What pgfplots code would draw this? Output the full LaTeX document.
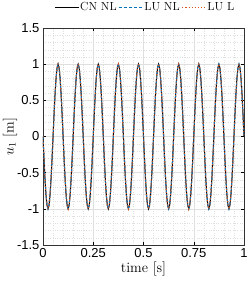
\documentclass[border=0pt]{standalone}
\usepackage{fontspec}
\newfontfamily\tickfont{Liberation Sans}
\usepackage{pgfplots}
\pgfplotsset{compat=1.18}
\usepackage{pgfplotstable}
\definecolor{mblue}{rgb}{0,0.447,0.741}
\definecolor{morange}{rgb}{0.85,0.325,0.098}
\pgfplotstableread{
t cn lunl lul
0.000 0 0 0
0.005 -0.309 -0.309 -0.309
0.010 -0.5878 -0.5878 -0.5878
0.015 -0.809 -0.809 -0.809
0.020 -0.9511 -0.9511 -0.9511
0.025 -1 -1 -1
0.030 -0.9511 -0.9511 -0.9511
0.035 -0.809 -0.809 -0.809
0.040 -0.5878 -0.5878 -0.5878
0.045 -0.309 -0.309 -0.309
0.050 0 0 0
0.055 0.309 0.309 0.309
0.060 0.5878 0.5878 0.5878
0.065 0.809 0.809 0.809
0.070 0.9511 0.9511 0.9511
0.075 1 1 1
0.080 0.9511 0.9511 0.9511
0.085 0.809 0.809 0.809
0.090 0.5878 0.5878 0.5878
0.095 0.309 0.309 0.309
0.100 0 0 0
0.105 -0.309 -0.309 -0.309
0.110 -0.5878 -0.5878 -0.5878
0.115 -0.809 -0.809 -0.809
0.120 -0.9511 -0.9511 -0.9511
0.125 -1 -1 -1
0.130 -0.9511 -0.9511 -0.9511
0.135 -0.809 -0.809 -0.809
0.140 -0.5878 -0.5878 -0.5878
0.145 -0.309 -0.309 -0.309
0.150 0 0 0
0.155 0.309 0.309 0.309
0.160 0.5878 0.5878 0.5878
0.165 0.809 0.809 0.809
0.170 0.9511 0.9511 0.9511
0.175 1 1 1
0.180 0.9511 0.9511 0.9511
0.185 0.809 0.809 0.809
0.190 0.5878 0.5878 0.5878
0.195 0.309 0.309 0.309
0.200 0 0 0
0.205 -0.309 -0.309 -0.309
0.210 -0.5878 -0.5878 -0.5878
0.215 -0.809 -0.809 -0.809
0.220 -0.9511 -0.9511 -0.9511
0.225 -1 -1 -1
0.230 -0.9511 -0.9511 -0.9511
0.235 -0.809 -0.809 -0.809
0.240 -0.5878 -0.5878 -0.5878
0.245 -0.309 -0.309 -0.309
0.250 0 0 0
0.255 0.309 0.309 0.309
0.260 0.5878 0.5878 0.5878
0.265 0.809 0.809 0.809
0.270 0.9511 0.9511 0.9511
0.275 1 1 1
0.280 0.9511 0.9511 0.9511
0.285 0.809 0.809 0.809
0.290 0.5878 0.5878 0.5878
0.295 0.309 0.309 0.309
0.300 0 0 0
0.305 -0.309 -0.309 -0.309
0.310 -0.5878 -0.5878 -0.5878
0.315 -0.809 -0.809 -0.809
0.320 -0.9511 -0.9511 -0.9511
0.325 -1 -1 -1
0.330 -0.9511 -0.9511 -0.9511
0.335 -0.809 -0.809 -0.809
0.340 -0.5878 -0.5878 -0.5878
0.345 -0.309 -0.309 -0.309
0.350 0 0 0
0.355 0.309 0.309 0.309
0.360 0.5878 0.5878 0.5878
0.365 0.809 0.809 0.809
0.370 0.9511 0.9511 0.9511
0.375 1 1 1
0.380 0.9511 0.9511 0.9511
0.385 0.809 0.809 0.809
0.390 0.5878 0.5878 0.5878
0.395 0.309 0.309 0.309
0.400 0 0 0
0.405 -0.309 -0.309 -0.309
0.410 -0.5878 -0.5878 -0.5878
0.415 -0.809 -0.809 -0.809
0.420 -0.9511 -0.9511 -0.9511
0.425 -1 -1 -1
0.430 -0.9511 -0.9511 -0.9511
0.435 -0.809 -0.809 -0.809
0.440 -0.5878 -0.5878 -0.5878
0.445 -0.309 -0.309 -0.309
0.450 0 0 0
0.455 0.309 0.309 0.309
0.460 0.5878 0.5878 0.5878
0.465 0.809 0.809 0.809
0.470 0.9511 0.9511 0.9511
0.475 1 1 1
0.480 0.9511 0.9511 0.9511
0.485 0.809 0.809 0.809
0.490 0.5878 0.5878 0.5878
0.495 0.309 0.309 0.309
0.500 0 0 0
0.505 -0.309 -0.309 -0.309
0.510 -0.5878 -0.5878 -0.5878
0.515 -0.809 -0.809 -0.809
0.520 -0.9511 -0.9511 -0.9511
0.525 -1 -1 -1
0.530 -0.9511 -0.9511 -0.9511
0.535 -0.809 -0.809 -0.809
0.540 -0.5878 -0.5878 -0.5878
0.545 -0.309 -0.309 -0.309
0.550 0 0 0
0.555 0.309 0.309 0.309
0.560 0.5878 0.5878 0.5878
0.565 0.809 0.809 0.809
0.570 0.9511 0.9511 0.9511
0.575 1 1 1
0.580 0.9511 0.9511 0.9511
0.585 0.809 0.809 0.809
0.590 0.5878 0.5878 0.5878
0.595 0.309 0.309 0.309
0.600 0 0 0
0.605 -0.309 -0.309 -0.309
0.610 -0.5878 -0.5878 -0.5878
0.615 -0.809 -0.809 -0.809
0.620 -0.9511 -0.9511 -0.9511
0.625 -1 -1 -1
0.630 -0.9511 -0.9511 -0.9511
0.635 -0.809 -0.809 -0.809
0.640 -0.5878 -0.5878 -0.5878
0.645 -0.309 -0.309 -0.309
0.650 0 0 0
0.655 0.309 0.309 0.309
0.660 0.5878 0.5878 0.5878
0.665 0.809 0.809 0.809
0.670 0.9511 0.9511 0.9511
0.675 1 1 1
0.680 0.9511 0.9511 0.9511
0.685 0.809 0.809 0.809
0.690 0.5878 0.5878 0.5878
0.695 0.309 0.309 0.309
0.700 0 0 0
0.705 -0.309 -0.309 -0.309
0.710 -0.5878 -0.5878 -0.5878
0.715 -0.809 -0.809 -0.809
0.720 -0.9511 -0.9511 -0.9511
0.725 -1 -1 -1
0.730 -0.9511 -0.9511 -0.9511
0.735 -0.809 -0.809 -0.809
0.740 -0.5878 -0.5878 -0.5878
0.745 -0.309 -0.309 -0.309
0.750 0 0 0
0.755 0.309 0.309 0.309
0.760 0.5878 0.5878 0.5878
0.765 0.809 0.809 0.809
0.770 0.9511 0.9511 0.9511
0.775 1 1 1
0.780 0.9511 0.9511 0.9511
0.785 0.809 0.809 0.809
0.790 0.5878 0.5878 0.5878
0.795 0.309 0.309 0.309
0.800 0 0 0
0.805 -0.309 -0.309 -0.309
0.810 -0.5878 -0.5878 -0.5878
0.815 -0.809 -0.809 -0.809
0.820 -0.9511 -0.9511 -0.9511
0.825 -1 -1 -1
0.830 -0.9511 -0.9511 -0.9511
0.835 -0.809 -0.809 -0.809
0.840 -0.5878 -0.5878 -0.5878
0.845 -0.309 -0.309 -0.309
0.850 0 0 0
0.855 0.309 0.309 0.309
0.860 0.5878 0.5878 0.5878
0.865 0.809 0.809 0.809
0.870 0.9511 0.9511 0.9511
0.875 1 1 1
0.880 0.9511 0.9511 0.9511
0.885 0.809 0.809 0.809
0.890 0.5878 0.5878 0.5878
0.895 0.309 0.309 0.309
0.900 0 0 0
0.905 -0.309 -0.309 -0.309
0.910 -0.5878 -0.5878 -0.5878
0.915 -0.809 -0.809 -0.809
0.920 -0.9511 -0.9511 -0.9511
0.925 -1 -1 -1
0.930 -0.9511 -0.9511 -0.9511
0.935 -0.809 -0.809 -0.809
0.940 -0.5878 -0.5878 -0.5878
0.945 -0.309 -0.309 -0.309
0.950 0 0 0
0.955 0.309 0.309 0.309
0.960 0.5878 0.5878 0.5878
0.965 0.809 0.809 0.809
0.970 0.9511 0.9511 0.9511
0.975 1 1 1
0.980 0.9511 0.9511 0.9511
0.985 0.809 0.809 0.809
0.990 0.5878 0.5878 0.5878
0.995 0.309 0.309 0.309
1.000 0 0 0
}\datatable
\begin{document}
\begin{tikzpicture}
\begin{axis}[
  scale only axis,
  width=201pt, height=217pt,
  xmin=0, xmax=1, ymin=-1.5, ymax=1.5,
  xtick={0,0.25,0.5,0.75,1},
  xticklabels={0,0.25,0.5,0.75,1},
  ytick={-1.5,-1,-0.5,0,0.5,1,1.5},
  yticklabels={-1.5,-1,-0.5,0,0.5,1,1.5},
  minor x tick num=4, minor y tick num=4,
  grid=both,
  major grid style={gray!25, line width=0.4pt},
  minor grid style={gray!25, dotted, line width=0.4pt},
  tick align=inside, major tick length=3pt, minor tick length=0pt,
  tick style={black, line width=0.4pt},
  axis line style={black!80, line width=0.5pt},
  tick label style={font=\tickfont\fontsize{13}{15}\selectfont},
  xlabel={time [s]}, ylabel={$u_1$ [m]},
  label style={font=\fontsize{14.3}{16}\selectfont},
  xlabel style={at={(axis description cs:0.5,-0.1106)}, anchor=center},
  ylabel style={at={(axis description cs:-0.1642,0.5)}, anchor=center},
  legend columns=3,
  legend style={at={(1,1)}, anchor=south east, xshift=-9pt, yshift=15pt, draw=none, fill=none,
    font=\fontsize{11.7}{13}\selectfont, inner sep=0pt,
    nodes={inner sep=0.6pt},
    /tikz/every odd column/.append style={column sep=0pt},
    /tikz/every even column/.append style={column sep=1.5pt}},
  legend image code/.code={\draw[mark repeat=2,mark phase=2] plot coordinates {(0pt,0pt) (12pt,0pt) (24pt,0pt)};},
  legend cell align=left,
]
\addplot[black, line width=1pt] table[x=t, y=cn] {\datatable};
\addlegendentry{CN NL}
\addplot[mblue, line width=1pt, dash pattern=on 3pt off 2pt] table[x=t, y=lunl] {\datatable};
\addlegendentry{LU NL}
\addplot[morange, line width=1.1pt, dotted] table[x=t, y=lul] {\datatable};
\addlegendentry{LU L}
\end{axis}
\pgfresetboundingbox
\path ([xshift=-43pt,yshift=-36pt]current axis.south west) rectangle ([xshift=5pt,yshift=28pt]current axis.north east);
\end{tikzpicture}
\end{document}
